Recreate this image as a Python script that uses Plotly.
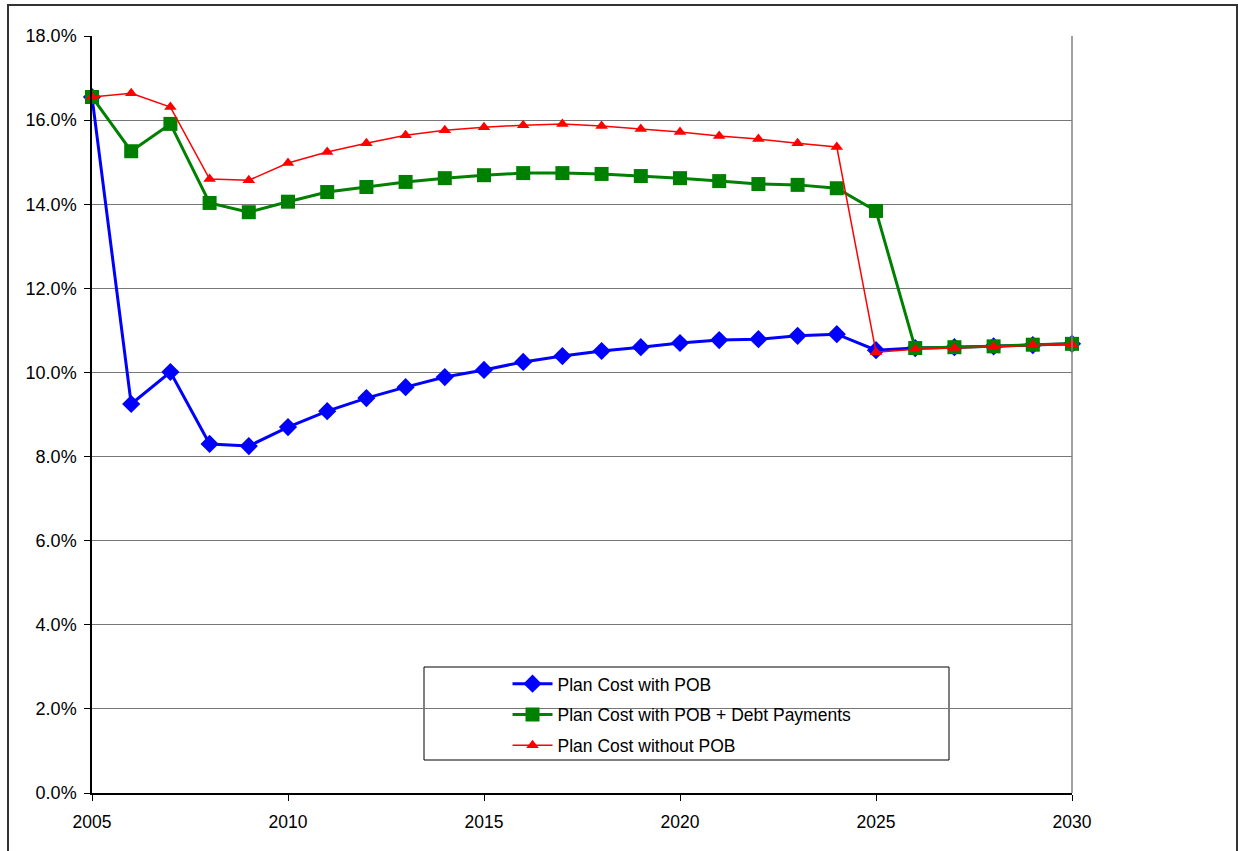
import plotly.graph_objects as go

years = list(range(2005, 2031))
with_pob = [16.55, 9.25, 10.01, 8.30, 8.25, 8.70, 9.08, 9.39, 9.65, 9.89, 10.06, 10.25, 10.39,
            10.51, 10.60, 10.70, 10.77, 10.79, 10.87, 10.91, 10.53, 10.58, 10.60, 10.62, 10.65, 10.68]
with_pob_debt = [16.55, 15.26, 15.91, 14.03, 13.81, 14.06, 14.29, 14.41, 14.53, 14.62, 14.69, 14.74, 14.74,
                 14.72, 14.67, 14.62, 14.55, 14.48, 14.46, 14.38, 13.84, 10.58, 10.60, 10.62, 10.66, 10.68]
without_pob = [16.55, 16.64, 16.31, 14.60, 14.57, 14.98, 15.24, 15.45, 15.64, 15.76, 15.83, 15.88, 15.91,
               15.86, 15.79, 15.72, 15.62, 15.55, 15.45, 15.36, 10.48, 10.55, 10.58, 10.61, 10.65, 10.67]
names = ["Plan Cost with POB", "Plan Cost with POB + Debt Payments", "Plan Cost without POB"]
y_ticks = [0, 2, 4, 6, 8, 10, 12, 14, 16, 18]
x_ticks = [2005, 2010, 2015, 2020, 2025, 2030]

FONT = "Liberation Sans, Arial, sans-serif"

fig = go.Figure()
fig.add_trace(go.Scatter(x=years, y=[v / 100 for v in with_pob], name=names[0], mode="lines+markers",
                         line=dict(color="#0000FF", width=3),
                         marker=dict(symbol="diamond", size=14, color="#0000FF"),
                         legendgroup="a", cliponaxis=False))
fig.add_trace(go.Scatter(x=years, y=[v / 100 for v in with_pob_debt], name=names[1], mode="lines+markers",
                         line=dict(color="#008000", width=3),
                         marker=dict(symbol="square", size=14, color="#008000"),
                         legendgroup="b", cliponaxis=False))
fig.add_trace(go.Scatter(x=years, y=[v / 100 for v in without_pob], name=names[2], mode="lines+markers",
                         line=dict(color="#FF0000", width=1.5),
                         marker=dict(symbol="triangle-up", size=11, color="#FF0000"),
                         legendgroup="c", cliponaxis=False))

fig.update_layout(
    width=1238, height=851,
    margin=dict(l=92, r=166, t=36, b=58),
    paper_bgcolor="white", plot_bgcolor="white",
    font=dict(family=FONT, size=17.5, color="black"),
    showlegend=True,
    legend=dict(x=0.424, y=0.168, xanchor="left", yanchor="top",
                bgcolor="rgba(0,0,0,0)", borderwidth=0,
                tracegroupgap=5, font=dict(size=17.5, family=FONT),
                itemwidth=40),
    xaxis=dict(range=[2005, 2030], tickvals=x_ticks, ticktext=[str(t) for t in x_ticks],
               showgrid=False, zeroline=False, showline=True, linecolor="black", linewidth=1.5,
               ticks="outside", ticklen=6, tickcolor="black", tickfont=dict(size=17.5),
               ticklabelstandoff=6),
    yaxis=dict(range=[0, 0.18], tickvals=[t / 100 for t in y_ticks], tickformat=".1%",
               showgrid=True, gridcolor="#777777", gridwidth=1, zeroline=False,
               showline=True, linecolor="black", linewidth=1.5,
               ticks="outside", ticklen=6, tickcolor="black", tickfont=dict(size=18),
               ticklabelstandoff=4),
    shapes=[
        dict(type="line", xref="paper", yref="paper", x0=1, x1=1, y0=0, y1=1,
             line=dict(color="#808080", width=1.5)),
        dict(type="rect", xref="paper", yref="paper", x0=(424 - 92) / 980, x1=(949 - 92) / 980,
             y0=(793 - 760) / 757, y1=(793 - 667) / 757, line=dict(color="black", width=1),
             fillcolor="white", layer="below"),
        dict(type="rect", xref="paper", yref="paper", x0=(8 - 92) / 980, x1=(1237 - 92) / 980,
             y0=(793 - 860) / 757, y1=(793 - 5) / 757, line=dict(color="#333333", width=2)),
    ],
)

fig.write_html("out.html")
